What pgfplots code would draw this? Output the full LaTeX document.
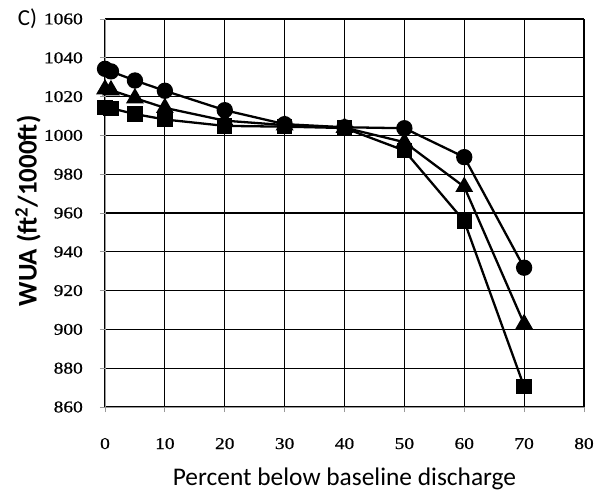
\documentclass[border=0pt]{standalone}
\usepackage{fontspec}
\setmainfont{Carlito}
\newfontfamily\tickfont[FakeStretch=1.18, FakeBold=0.8]{Liberation Serif}
\usepackage{pgfplots}
\pgfplotsset{compat=1.18}
\begin{document}
\begin{tikzpicture}
\begin{axis}[
  at={(0,0)}, anchor=origin,
  scale only axis, width=479bp, height=388bp,
  xmin=0, xmax=80, ymin=860, ymax=1060,
  xtick={0,10,...,80}, ytick={860,880,...,1060},
  grid=major, grid style={black, line width=1.1pt},
  axis lines=left, axis line style={-, draw=gray!80, line width=1pt},
  tick align=outside, major tick length=5bp,
  tick style={gray!80, line width=0.8pt},
  /pgf/number format/assume math mode=true,
  /pgf/number format/set thousands separator={},
  ticklabel style={font=\tickfont\fontsize{16.5}{18}\selectfont},
  xticklabel style={anchor=base, inner sep=0pt, yshift=-37bp},
  yticklabel style={anchor=east, inner sep=0pt, xshift=-17bp},
  clip=false,
]
\addplot[black, line width=2.3pt, mark=*, mark size=7bp] coordinates {
(0,1034.3) (1,1033) (5,1028.3) (10,1023) (20,1013) (30,1005.8) (40,1004.2) (50,1003.7) (60,988.8) (70,931.8)};
\addplot[black, line width=2.3pt, mark=triangle*, mark size=8bp] coordinates {
(0,1023.8) (1,1023.3) (5,1019.2) (10,1014.2) (20,1007.6) (30,1005.3) (40,1004) (50,996.5) (60,973.5) (70,902.8)};
\addplot[black, line width=2.3pt, mark=square*, mark size=6.5bp] coordinates {
(0,1014.5) (1,1014) (5,1011) (10,1008.2) (20,1004.9) (30,1004.5) (40,1003.8) (50,992.2) (60,955.8) (70,870.5)};
\end{axis}
\node[anchor=base, font=\fontsize{25.5}{28}\selectfont, inner sep=0pt] at (239.5bp,-78bp) {Percent below baseline discharge};
\node[rotate=90, font=\bfseries\fontsize{27}{30}\selectfont, inner sep=0pt] at (-77bp,196bp) {WUA (ft\textsuperscript{2}/1000ft)};
\node[anchor=base, font=\fontsize{23}{26}\selectfont, inner sep=0pt] at (-77.5bp,381bp) {C)};
\pgfresetboundingbox
\path[use as bounding box] (-105bp,-86bp) rectangle (490bp,407bp);
\end{tikzpicture}
\end{document}
